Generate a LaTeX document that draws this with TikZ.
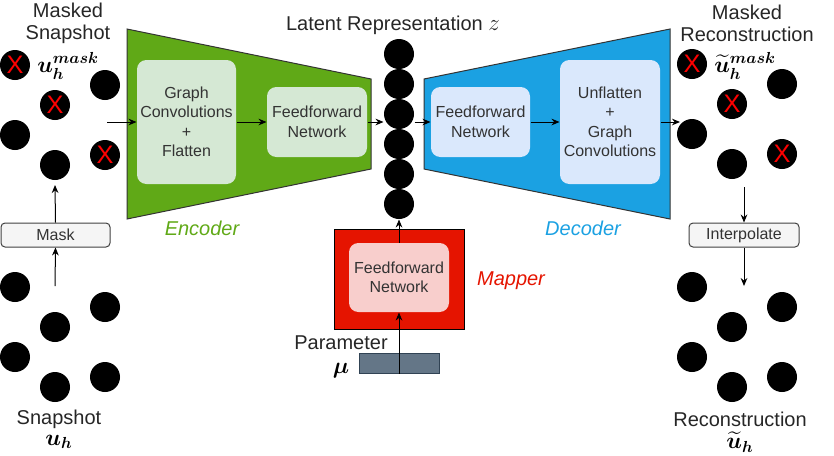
\documentclass[tikz,border=0pt]{standalone}
\usepackage{amsmath}
\usepackage{fontspec}
\setmainfont{Liberation Sans}
\usepackage{tikz}
\usetikzlibrary{arrows.meta, positioning}

\definecolor{encgreen}{HTML}{60A917}
\definecolor{decblue}{HTML}{1BA1E2}
\definecolor{mapred}{HTML}{E51400}
\definecolor{lightgreen}{HTML}{D5E8D4}
\definecolor{lightblue}{HTML}{DAE8FC}
\definecolor{lightred}{HTML}{F8CECC}
\definecolor{paramgray}{HTML}{647687}
\definecolor{paramedge}{HTML}{314354}

\tikzset{
  dot/.style={circle, fill=black, minimum size=22.5pt, inner sep=0pt},
  crossmark/.style={text=red, font=\fontsize{19}{19}\selectfont, inner sep=0pt},
  netbox/.style={rounded corners=7pt, align=center, inner sep=0pt, text=black!80,
    font=\fontsize{12}{14.6}\selectfont},
  opbox/.style={rounded corners=3pt, draw=black!75, fill=black!4, inner sep=0pt,
    text=black!80, font=\fontsize{12}{14}\selectfont, minimum height=18pt},
  lbl/.style={align=center, inner sep=0pt, text=black!85, font=\fontsize{15}{16.5}\selectfont},
  mathlbl/.style={inner sep=0pt, font=\fontsize{17.28}{19}\selectfont\boldmath},
  partlbl/.style={font=\fontsize{15}{16.5}\selectfont\itshape},
  arr/.style={-{Stealth[length=6pt, width=5pt]}, black}
}

\begin{document}
\begin{tikzpicture}[x=0.75pt, y=-0.75pt, line width=0.75pt]
        \useasboundingbox (0,0) rectangle (834,455);

        % Encoder
        \draw[fill=encgreen, draw=black!80] (127,29) -- (371,79) -- (371,169) -- (127,219) -- cycle;
        \node[netbox, fill=lightgreen, minimum width=74.25pt, minimum height=93pt] (gconv) at (186.5,122) {Graph\\Convolutions\\+\\Flatten};
        \node[netbox, fill=lightgreen, minimum width=75pt, minimum height=52.5pt] (encff) at (317,122) {Feedforward\\Network};
        \node[partlbl, text=encgreen] (enclbl) at (202,228) {Encoder};

        % Decoder
        \draw[fill=decblue, draw=black!80] (424,79) -- (670,29) -- (670,219) -- (424,169) -- cycle;
        \node[netbox, fill=lightblue, minimum width=74.25pt, minimum height=52.5pt] (decff) at (480.5,122) {Feedforward\\Network};
        \node[netbox, fill=lightblue, minimum width=75pt, minimum height=93pt] (unflat) at (610,122) {Unflatten\\+\\Graph\\Convolutions};
        \node[partlbl, text=decblue] (declbl) at (583,228) {Decoder};

        % Latent representation
        \foreach \i in {1,...,6} \node[dot] (z\i) at (399,{24+30*\i}) {};
        \node[lbl] (latlbl) at (393,25) {Latent Representation {\fontsize{17.28}{19}\selectfont$z$}};

        % Mapper
        \node[draw=black, fill=mapred, minimum width=97.5pt, minimum height=75pt, inner sep=0pt] (mapper) at (399,279) {};
        \node[netbox, fill=lightred, minimum width=75pt, minimum height=51.75pt] (mapff) at (399,277.5) {Feedforward\\Network};
        \node[partlbl, text=mapred] (maplbl) at (511,281) {Mapper};
        \node[draw=paramedge, fill=paramgray, minimum width=60pt, minimum height=15pt, inner sep=0pt] (param) at (399,363) {};
        \node[lbl] (paramlbl) at (341,343) {Parameter};
        \node[mathlbl] (mulbl) at (341,371) {$\mu$};

        % Masked snapshot
        \begin{scope}[shift={(15,65)}]
            \foreach \n/\dx/\dy in {1/0/0, 2/90/20, 3/40/40, 4/0/70, 5/90/90, 6/40/100}
                \node[dot] (m\n) at (\dx,\dy) {};
            \foreach \n in {1,3,5} \node[crossmark] (mx\n) at (m\n) {X};
        \end{scope}
        \node[lbl] (msklbl) at (68,23) {Masked\\Snapshot};
        \node[mathlbl] (msku) at (68,66) {$u_h^{mask}$};

        % Snapshot
        \begin{scope}[shift={(15,287)}]
            \foreach \n/\dx/\dy in {1/0/0, 2/90/20, 3/40/40, 4/0/70, 5/90/90, 6/40/100}
                \node[dot] (s\n) at (\dx,\dy) {};
        \end{scope}
        \node[lbl] (snaplbl) at (59,419) {Snapshot};
        \node[mathlbl] (snapu) at (59,442) {$u_h$};

        % Masked reconstruction
        \begin{scope}[shift={(692,64)}]
            \foreach \n/\dx/\dy in {1/0/0, 2/90/20, 3/40/40, 4/0/70, 5/90/90, 6/40/100}
                \node[dot] (r\n) at (\dx,\dy) {};
            \foreach \n in {1,3,5} \node[crossmark] (rx\n) at (r\n) {X};
        \end{scope}
        \node[lbl] (mreclbl) at (747,23) {Masked\\Reconstruction};
        \node[mathlbl] (mrecu) at (745,66) {$\widetilde{u}_h^{mask}$};

        % Reconstruction
        \begin{scope}[shift={(692,287)}]
            \foreach \n/\dx/\dy in {1/0/0, 2/90/20, 3/40/40, 4/0/70, 5/90/90, 6/40/100}
                \node[dot] (t\n) at (\dx,\dy) {};
        \end{scope}
        \node[lbl] (reclbl) at (740,419) {Reconstruction};
        \node[mathlbl] (recu) at (740,442) {$\widetilde{u}_h$};

        % Mask and interpolation
        \node[opbox, minimum width=81.75pt] (mask) at (55.5,235) {Mask};
        \node[opbox, minimum width=82.5pt] (interp) at (744,235) {Interpolate};

        % Connectors
        \coordinate (snapout) at (55,286);
        \coordinate (maskout) at (55,185);
        \coordinate (mskin) at (107,122);
        \coordinate (recin) at (680,122);
        \coordinate (recout) at (744,187);
        \coordinate (interpout) at (744,286);
        \draw[arr] (snapout) -- (mask.south);
        \draw[arr] (mask.north) -- (maskout);
        \draw[arr] (mskin) -- (gconv);
        \draw[arr] (gconv) -- (encff);
        \draw[arr] (encff.east) -- (encff.east -| z3.west);
        \draw[arr] (decff.west -| z3.east) -- (decff.west);
        \draw[arr] (decff) -- (unflat);
        \draw[arr] (unflat) -- (recin);
        \draw[arr] (recout) -- (interp.north);
        \draw[arr] (interp.south) -- (interpout);
        \draw[arr] (param.south) -- (mapff.south);
        \draw[arr] (mapff.north) -- (z6.south);
    \end{tikzpicture}
\end{document}
